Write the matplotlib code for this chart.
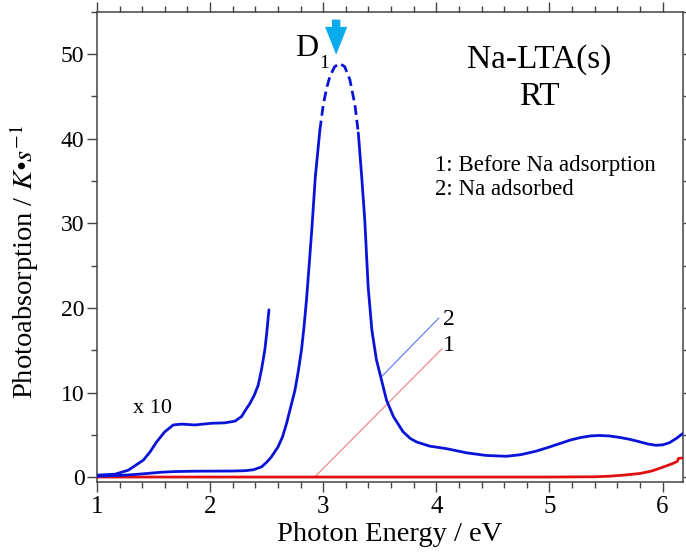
import numpy as np
import matplotlib
matplotlib.use("Agg")
import matplotlib.pyplot as plt
from matplotlib.ticker import MultipleLocator

plt.rcParams['font.family'] = ['Liberation Serif', 'DejaVu Serif']
plt.rcParams['mathtext.fontset'] = 'stix'

# ---- data ----
energy_na = [1.00, 1.16, 1.28, 1.40, 1.57, 1.70, 1.87, 2.05, 2.20, 2.31, 2.38, 2.455,
             2.50, 2.54, 2.60, 2.64, 2.676, 2.71, 2.75, 2.78, 2.808, 2.83, 2.852, 2.875,
             2.90, 2.93, 2.97, 3.00, 3.03, 3.06, 3.10, 3.146, 3.19, 3.235, 3.28, 3.31,
             3.34, 3.367, 3.397, 3.43, 3.47, 3.515, 3.56, 3.62, 3.705, 3.77, 3.824, 3.94,
             4.09, 4.27, 4.44, 4.62, 4.75, 4.88, 5.00, 5.09, 5.18, 5.27, 5.36, 5.44,
             5.53, 5.62, 5.71, 5.80, 5.87, 5.94, 6.00, 6.06, 6.12, 6.18]
absorb_na = [0.15, 0.22, 0.30, 0.42, 0.62, 0.70, 0.74, 0.75, 0.76, 0.80, 0.90, 1.25,
             1.80, 2.40, 3.60, 4.80, 6.40, 8.20, 10.3, 12.6, 15.1, 17.8, 21.0, 25.0,
             29.5, 35.5, 41.0, 44.0, 46.0, 47.4, 48.5, 48.9, 48.5, 47.0, 44.0, 40.7,
             35.5, 30.4, 22.5, 17.4, 13.9, 11.5, 9.10, 7.20, 5.40, 4.60, 4.20, 3.70,
             3.40, 2.90, 2.60, 2.50, 2.70, 3.10, 3.60, 4.00, 4.40, 4.70, 4.90, 4.96,
             4.90, 4.73, 4.50, 4.20, 3.95, 3.80, 3.85, 4.10, 4.60, 5.20]

energy_x10 = [1.00, 1.16, 1.277, 1.365, 1.41, 1.468, 1.527, 1.60, 1.674, 1.748, 1.866,
              2.013, 2.13, 2.22, 2.278, 2.32, 2.35, 2.39, 2.425, 2.455, 2.484, 2.50, 2.52]
absorb_x10 = [0.27, 0.39, 0.86, 1.65, 2.05, 3.00, 4.20, 5.40, 6.20, 6.30, 6.20,
              6.40, 6.45, 6.65, 7.20, 8.10, 8.70, 9.70, 10.9, 12.8, 15.1, 17.0, 19.8]

energy_before = [1.0, 2.0, 3.0, 4.0, 5.0, 5.40, 5.53, 5.66, 5.80, 5.90, 5.97, 6.03,
                 6.09, 6.13, 6.14, 6.18]
absorb_before = [0.05, 0.05, 0.05, 0.05, 0.05, 0.08, 0.15, 0.28, 0.47, 0.75, 1.06, 1.35,
                 1.65, 1.90, 2.25, 2.30]

dash_range = (2.97, 3.31)
x_ticks = [1, 2, 3, 4, 5, 6]
y_ticks = [0, 10, 20, 30, 40, 50]

# ---- figure ----
fig = plt.figure(figsize=(6.86, 5.59), dpi=100)
ax = fig.add_axes([0.1414, 0.1383, 0.8542, 0.8407])

blue = '#0a14d8'
red = '#e01010'

e2 = np.array(energy_na)
a2 = np.array(absorb_na)
m_left = e2 <= dash_range[0]
m_mid = (e2 >= dash_range[0]) & (e2 <= dash_range[1])
m_right = e2 >= dash_range[1]

kw = dict(color=blue, lw=2.0, zorder=4, solid_joinstyle='round', solid_capstyle='round')
ax.plot(energy_before, absorb_before, color=red, lw=2.0, zorder=3)
ax.plot(e2[m_left], a2[m_left], **kw)
ax.plot(e2[m_mid], a2[m_mid], color=blue, lw=2.0, ls=(0, (3.5, 1.8)), zorder=4)
ax.plot(e2[m_right], a2[m_right], **kw)
ax.plot(energy_x10, absorb_x10, **kw)

# leader lines
ax.plot([3.515, 4.02], [11.9, 18.8], color='#6f7fee', lw=0.9, zorder=2)
ax.plot([2.926, 4.05], [0.07, 15.2], color='#f28a8a', lw=0.9, zorder=2)
ax.text(4.06, 18.7, '2', fontsize=17, ha='left', va='center')
ax.text(4.06, 15.6, '1', fontsize=17, ha='left', va='center')

# D1 arrow
ax.annotate('', xy=(3.114, 49.6), xytext=(3.114, 54.4),
            arrowprops=dict(arrowstyle='simple,head_width=1.6,head_length=2.0,tail_width=0.6',
                            color='#08acec', lw=0), zorder=5)
ax.text(2.958, 50.6, 'D', fontsize=23, ha='right', va='center')
ax.text(2.962, 48.9, '1', fontsize=14, ha='left', va='center')

ax.text(1.32, 8.1, 'x 10', fontsize=16, ha='left', va='center')

ax.text(4.91, 49.3, 'Na-LTA(s)', fontsize=24, ha='center', va='center')
ax.text(4.91, 45.0, 'RT', fontsize=24, ha='center', va='center')
ax.text(3.99, 36.9, '1: Before Na adsorption', fontsize=16.5, ha='left', va='center')
ax.text(3.99, 34.0, '2: Na adsorbed', fontsize=16.5, ha='left', va='center')

ax.set_xlim(1, 6.18)
ax.set_ylim(-0.5, 55)
ax.set_xticks(x_ticks)
ax.set_yticks(y_ticks)
ax.xaxis.set_minor_locator(MultipleLocator(0.2))
ax.yaxis.set_minor_locator(MultipleLocator(5))
ax.tick_params(which='both', direction='out', top=True, right=True, color='#444444', width=1.0)
ax.tick_params(which='major', length=7)
ax.tick_params(which='minor', length=4.5)
ax.tick_params(axis='x', labelsize=18, pad=3)
ax.tick_params(axis='y', labelsize=17, pad=2)
for s in ax.spines.values():
    s.set_color('#444444')
    s.set_linewidth(1.1)

ax.set_xlabel('Photon Energy / eV', fontsize=20.5, labelpad=3)
ax.set_ylabel(r'Photoabsorption / $K$•$s^{-1}$', fontsize=20.5)
ax.yaxis.set_label_coords(-0.096, 0.467)

fig.savefig('out.png', dpi=100)
